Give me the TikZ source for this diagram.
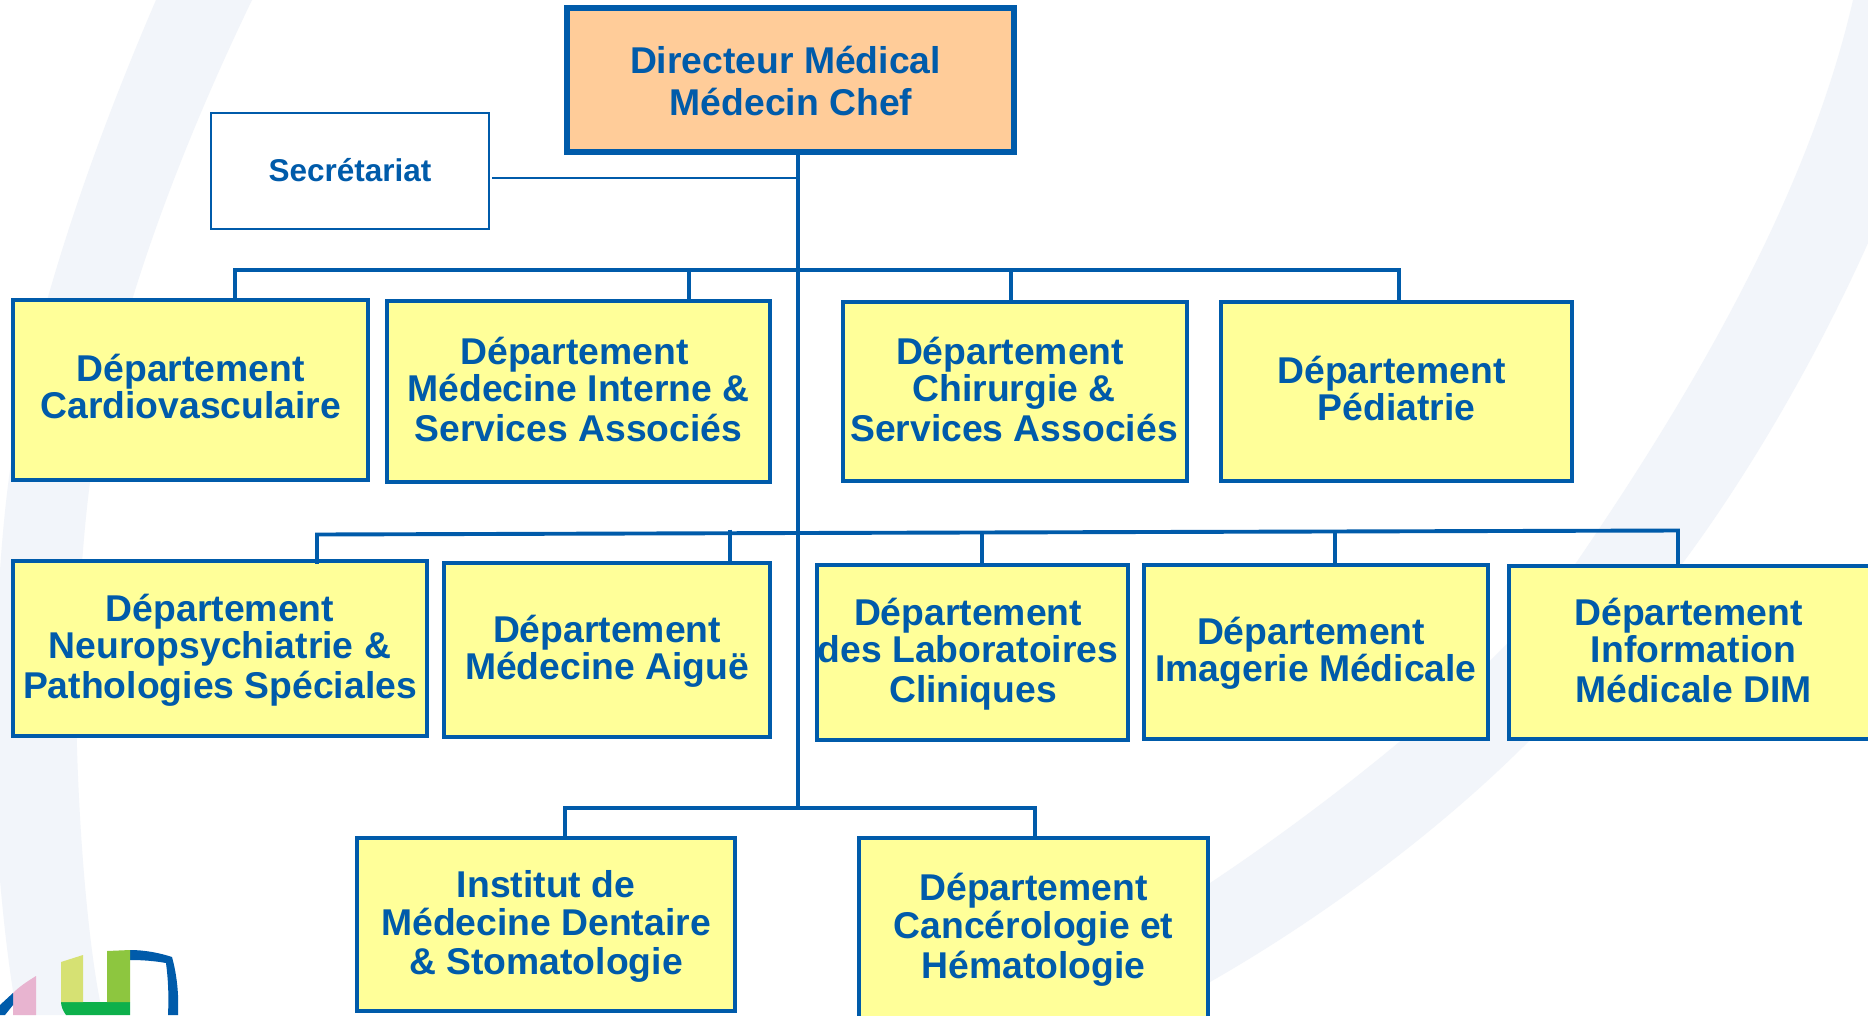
\documentclass[tikz,border=0pt]{standalone}
\usepackage{fontspec}
\setmainfont{Liberation Sans}
\definecolor{chuBlue}{HTML}{005BAA}
\definecolor{paleBand}{HTML}{F2F5FA}
\definecolor{boxYellow}{HTML}{FFFF99}
\definecolor{boxOrange}{HTML}{FFCC99}
\definecolor{logoDark}{HTML}{0DB04B}
\definecolor{logoMid}{HTML}{8DC63F}
\definecolor{logoPale}{HTML}{D6E173}
\definecolor{logoPink}{HTML}{E8B4D0}
\newcommand{\bt}[3]{\makebox[0pt]{\hspace*{#1pt}\hspace*{#1pt}\raisebox{#2pt}[0pt][0pt]{\parbox[t]{500pt}{\centering\setlength{\baselineskip}{37pt}\lineskiplimit=-100pt\relax #3\par}}}}
\newcommand{\tr}[1]{\kern#1pt\relax}
\tikzset{
  basebox/.style={rectangle,draw=chuBlue,inner sep=0pt,text=chuBlue,font=\bfseries\fontsize{37.3}{37}\selectfont},
  dept/.style={basebox,fill=boxYellow,line width=4.2pt},
  chief/.style={basebox,fill=boxOrange,line width=6pt},
  office/.style={basebox,fill=white,line width=2.6pt,font=\bfseries\fontsize{31.5}{37}\selectfont},
  link/.style={draw=chuBlue,line width=3.9pt},
  thinlink/.style={draw=chuBlue,line width=2.2pt},
}
\begin{document}
\begin{tikzpicture}[x=1pt,y=-1pt]
\useasboundingbox (0,0) rectangle (1868,1015);
\clip (0,0) rectangle (1868,1015);
\fill[white] (0,0) rectangle (1868,1015);
% background swooshes
\fill[paleBand] (156,0) .. controls (85,165) and (30,330) .. (10,470) .. controls (-8,600) and (-8,780) .. (0,880) .. controls (4,925) and (9,970) .. (17,1015)
  -- (103,1015) .. controls (90,960) and (80,850) .. (77,748) .. controls (76,650) and (80,560) .. (90,482) .. controls (110,340) and (170,170) .. (252,0) -- cycle;
\fill[paleBand] (1853,0) .. controls (1815,165) and (1725,345) .. (1578,560) .. controls (1503,670) and (1320,810) .. (1210,883) .. controls (1140,930) and (1070,975) .. (1000,1020)
  -- (1130,1025) .. controls (1155,1012) and (1183,997) .. (1210,982) .. controls (1310,925) and (1430,840) .. (1528,742) .. controls (1590,680) and (1640,620) .. (1685,560) .. controls (1755,465) and (1820,350) .. (1868,243)
  -- (1868,0) -- cycle;
% logo
\fill[chuBlue] (130,950) .. controls (145,950) and (160,953) .. (172,957) .. controls (177,975) and (179,995) .. (178,1015) -- (168,1015) .. controls (169,995) and (168,978) .. (166,963) .. controls (155,961) and (143,960) .. (130,960) -- cycle;
\fill[logoDark] (61,1002) -- (130,1002) -- (130,1015) -- (66,1015) .. controls (63,1011) and (61,1006) .. (61,1002) -- cycle;
\fill[logoMid] (107,951) -- (130,950) -- (130,1002) -- (107,1002) -- cycle;
\fill[logoPale] (61,962) -- (83,955) -- (83,1002) -- (61,1002) -- cycle;
\fill[logoPink] (13,993) .. controls (20,986) and (28,981) .. (36,976) -- (36,1015) -- (13,1015) -- cycle;
\fill[chuBlue] (0,1005) -- (13,993) -- (13,1005) -- (5,1015) -- (0,1015) -- cycle;
% boxes
\node[chief,minimum width=447pt,minimum height=144pt] (dir) at (790.5,80) {\bt{0.5}{7}{\setlength{\baselineskip}{42pt}Directeur Médical\tr{11}\\Médecin Chef}};
\node[office,minimum width=278pt,minimum height=116pt] (sec) at (350,171) {\bt{0}{-10}{Secrétariat}};
\node[dept,minimum width=355pt,minimum height=180pt] (card) at (190.75,390) {\bt{0}{9}{Département\\Cardiovasculaire}};
\node[dept,minimum width=383pt,minimum height=181pt] (mint) at (578.5,391.5) {\bt{0}{27.5}{Département\tr{8}\\[0pt]Médecine Interne \&\\[3pt]Services Associés}};
\node[dept,minimum width=344pt,minimum height=179pt] (chir) at (1015,391.5) {\bt{-1}{27.5}{Département\tr{8}\\[0pt]Chirurgie \&\\[3pt]Services Associés}};
\node[dept,minimum width=351pt,minimum height=179pt] (ped) at (1396.5,391.5) {\bt{0}{8}{Département\tr{10}\\Pédiatrie}};
\node[dept,minimum width=414pt,minimum height=175pt] (neuro) at (220,648.5) {\bt{0}{27.5}{Département\\Neuropsychiatrie \&\\[3pt]Pathologies Spéciales}};
\node[dept,minimum width=326pt,minimum height=174pt] (aigue) at (607,650) {\bt{0}{8}{Département\\Médecine Aiguë}};
\node[dept,minimum width=311pt,minimum height=175pt] (labo) at (972.5,652.5) {\bt{0.5}{27.5}{Département\tr{10}\\[0pt]des Laboratoires\tr{10}\\[3pt]Cliniques}};
\node[dept,minimum width=344pt,minimum height=174pt] (imag) at (1316,652) {\bt{0}{8}{Département\tr{10}\\Imagerie Médicale}};
\node[dept,minimum width=369pt,minimum height=173pt] (info) at (1693.5,652.5) {\bt{0}{27.5}{Département\tr{10}\\Information\\[3pt]Médicale DIM}};
\node[dept,minimum width=378pt,minimum height=173pt] (inst) at (546,924.5) {\bt{0}{27.5}{Institut de\\[1pt]Médecine Dentaire\\[2pt]\& Stomatologie}};
\node[dept,minimum width=349pt,minimum height=200pt] (canc) at (1033.5,938) {\bt{0}{38}{Département\\[1pt]Cancérologie et\\[3pt]Hématologie}};
% connector junctions
\coordinate (trunkTop) at (798,155);
\coordinate (secJoin) at (798,178);
\coordinate (b1mid) at (798,270);
\coordinate (b2mid) at (798,533);
\coordinate (b3mid) at (798,808);
\coordinate (b1a) at (235,270);
\coordinate (b1b) at (689,270);
\coordinate (b1c) at (1011,270);
\coordinate (b1d) at (1399,270);
\coordinate (b2a) at (317,534.5);
\coordinate (b2b) at (730,533.5);
\coordinate (b2c) at (982,532.5);
\coordinate (b2d) at (1335,531);
\coordinate (b2e) at (1678,530.5);
\coordinate (b3a) at (565,808);
\coordinate (b3b) at (1035,808);
% connectors
\path[thinlink,shorten >=2pt] (secJoin) -- (secJoin -| sec.east);
\path[link] (trunkTop) -- (b3mid);
\path[link,line cap=rect] (b1a) -- (b1d);
\path[link] (b1a) -- (b1a |- card.north);
\path[link] (b1b) -- (b1b |- mint.north);
\path[link] (b1c) -- (b1c |- chir.north);
\path[link] (b1d) -- (b1d |- ped.north);
\path[link,line cap=rect] (b2a) -- (b2mid) -- (b2e);
\path[link,shorten >=-5pt] (b2a) -- (b2a |- neuro.north);
\path[link,shorten <=-4pt] (b2b) -- (b2b |- aigue.north);
\path[link] (b2c) -- (b2c |- labo.north);
\path[link] (b2d) -- (b2d |- imag.north);
\path[link] (b2e) -- (b2e |- info.north);
\path[link,line cap=rect] (b3a) -- (b3b);
\path[link] (b3a) -- (b3a |- inst.north);
\path[link] (b3b) -- (b3b |- canc.north);
\end{tikzpicture}
\end{document}
